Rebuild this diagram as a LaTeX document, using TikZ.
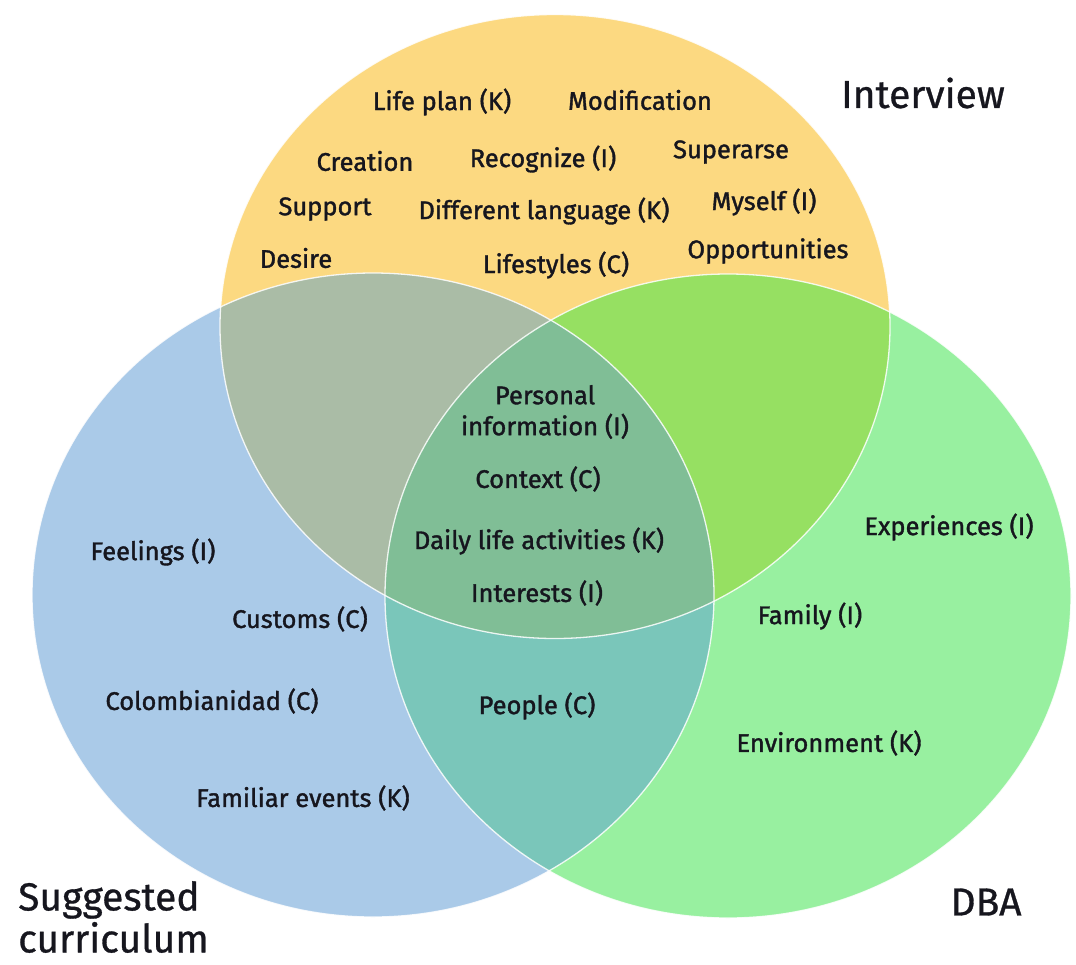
\documentclass[tikz,border=0pt]{standalone}
\usepackage{fontspec}
\newfontfamily\labfont{Fira Sans}[FakeBold=1.4]
\newfontfamily\ttlfont{Fira Sans}[FakeBold=0.8]
\definecolor{cY}{HTML}{FCD981}
\definecolor{cB}{HTML}{AACAE8}
\definecolor{cG}{HTML}{98F0A0}
\definecolor{cYB}{HTML}{AABCA6}
\definecolor{cYG}{HTML}{96E062}
\definecolor{cBG}{HTML}{7AC6BA}
\definecolor{cYBG}{HTML}{80BE96}
\definecolor{ink}{HTML}{16161E}
\tikzset{
  lab/.style={text=ink, inner sep=0pt, font=\labfont\fontsize{25.5}{31}\selectfont, align=center},
  ttl/.style={text=ink, inner sep=0pt, font=\ttlfont\fontsize{39}{42}\selectfont},
  rim/.style={draw=white, line width=1.3pt, opacity=0.85}
}
\begin{document}
\begin{tikzpicture}[x=1pt,y=-1pt]
\useasboundingbox (0,0) rectangle (1076,964);
\def\Yell{(555,326.5) ellipse [x radius=335pt, y radius=312pt]}
\def\Blue{(373,595) ellipse [x radius=341pt, y radius=322pt]}
\def\Gree{(728,596) ellipse [x radius=343pt, y radius=322pt]}
\fill[cY] \Yell;
\fill[cB] \Blue;
\fill[cG] \Gree;
\begin{scope}\clip \Yell; \fill[cYB] \Blue; \end{scope}
\begin{scope}\clip \Yell; \fill[cYG] \Gree; \end{scope}
\begin{scope}\clip \Blue; \fill[cBG] \Gree; \end{scope}
\begin{scope}\clip \Yell; \clip \Blue; \fill[cYBG] \Gree; \end{scope}
\draw[rim] \Yell;
\draw[rim] \Blue;
\draw[rim] \Gree;
% Interview only
\node[lab] (lifeplan) at (442,102) {Life plan (K)};
\node[lab] (modif) at (640,100) {Modification};
\node[lab] (creation) at (365,161) {Creation};
\node[lab] (recog) at (543,159) {Recognize (I)};
\node[lab] (super) at (731,152) {Superarse};
\node[lab] (support) at (325,209) {Support};
\node[lab] (difflang) at (544,211) {Different language (K)};
\node[lab] (myself) at (764,202) {Myself (I)};
\node[lab] (desire) at (296,258) {Desire};
\node[lab] (lifest) at (556,265) {Lifestyles (C)};
\node[lab] (opport) at (768,251) {Opportunities};
% centre
\node[lab] (persinfo) at (545,412) {Personal\\information (I)};
\node[lab] (context) at (538,479) {Context (C)};
\node[lab] (daily) at (539,541) {Daily life activities (K)};
\node[lab] (interests) at (537,593) {Interests (I)};
% suggested curriculum
\node[lab] (feelings) at (153,552) {Feelings (I)};
\node[lab] (customs) at (300,619) {Customs (C)};
\node[lab] (colomb) at (212,701) {Colombianidad (C)};
\node[lab] (familiar) at (303,798) {Familiar events (K)};
% B and G
\node[lab] (people) at (537,706) {People (C)};
% DBA
\node[lab] (exper) at (949,527) {Experiences (I)};
\node[lab] (family) at (810,616) {Family (I)};
\node[lab] (environ) at (829,743) {Environment (K)};
% titles
\node[ttl] (tInterview) at (923,93) {Interview};
\node[ttl, align=left, anchor=west] (tSugg) at (18,917) {Suggested\\curriculum};
\node[ttl] (tDBA) at (986,902) {DBA};
\end{tikzpicture}
\end{document}
